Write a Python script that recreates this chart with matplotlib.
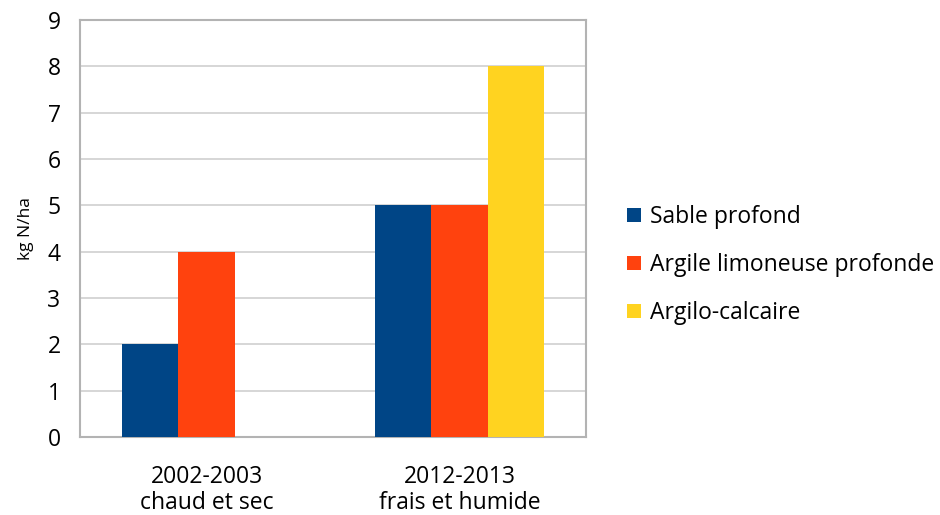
import matplotlib
matplotlib.use("Agg")
import matplotlib.pyplot as plt
import numpy as np

categories = ["2002-2003\nchaud et sec", "2012-2013\nfrais et humide"]
series_names = ["Sable profond", "Argile limoneuse profonde", "Argilo-calcaire"]
sable = [2, 5]
argile_limoneuse = [4, 5]
argilo_calcaire = [0, 8]
colors = ["#004586", "#FF420E", "#FFD320"]

plt.rcParams['font.family'] = ['Open Sans', 'DejaVu Sans']

fig = plt.figure(figsize=(9.4, 5.15), dpi=100)
ax = fig.add_axes([80/940, 1-437/515, 506/940, 417/515])

x = np.arange(len(categories))
w = 0.2222
for i, (vals, c, name) in enumerate(zip([sable, argile_limoneuse, argilo_calcaire], colors, series_names)):
    ax.bar(x + (i-1)*w, vals, width=w, color=c, label=name, zorder=3)

ax.set_xlim(-0.5, 1.5)
ax.set_ylim(0, 9)
ax.set_yticks(range(0, 10))
ax.yaxis.grid(True, color="#D0D0D0", linewidth=1.2, zorder=0)
ax.set_xticks(x)
ax.set_xticklabels(categories, fontsize=16.5, linespacing=1.15)
ax.tick_params(axis='y', length=0, labelsize=16.5, colors="#000000", pad=14)
ax.tick_params(axis='x', length=0, colors="#000000", pad=20)
for s in ax.spines.values():
    s.set_color("#B3B3B3")
    s.set_linewidth(1.5)
ax.set_ylabel("kg N/ha", fontsize=12.5, labelpad=10)

ax.legend(loc='center left', bbox_to_anchor=(1.04, 0.412), frameon=False,
          fontsize=16.5, handlelength=0.6, handleheight=0.6, handletextpad=0.4,
          labelspacing=1.05)

fig.savefig("out.png", dpi=100)
